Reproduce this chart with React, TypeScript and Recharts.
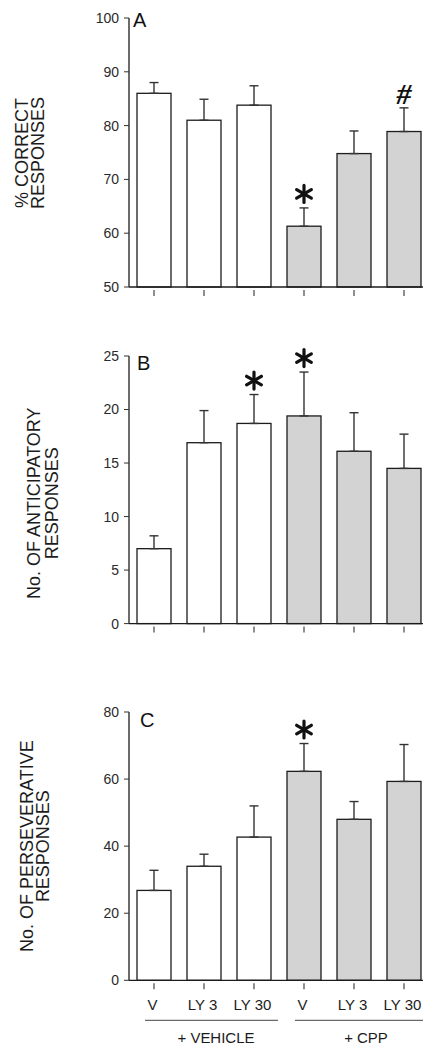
import React from 'react';
import { BarChart, Bar, XAxis, YAxis, ErrorBar, Label } from 'recharts';

// treatment groups along the x axis
const doses = ['V', 'LY 3', 'LY 30', 'V', 'LY 3', 'LY 30'];
const pretreatment = ['vehicle', 'vehicle', 'vehicle', 'cpp', 'cpp', 'cpp'];
const groupTitles: Record<string, string> = { vehicle: '+ VEHICLE', cpp: '+ CPP' };

// A: % correct responses (mean, SEM)
const correctMean = [86.0, 81.0, 83.8, 61.3, 74.8, 78.9];
const correctSem = [2.0, 3.9, 3.6, 3.4, 4.2, 4.4];
const correctMarks = ['', '', '', '*', '', '#'];
const correctTicks = [50, 60, 70, 80, 90, 100];

// B: anticipatory responses
const anticipatoryMean = [7.0, 16.9, 18.7, 19.4, 16.1, 14.5];
const anticipatorySem = [1.2, 3.0, 2.7, 4.1, 3.6, 3.2];
const anticipatoryMarks = ['', '', '*', '*', '', ''];
const anticipatoryTicks = [0, 5, 10, 15, 20, 25];

// C: perseverative responses
const perseverativeMean = [26.8, 34.0, 42.7, 62.3, 48.0, 59.3];
const perseverativeSem = [6.0, 3.6, 9.3, 8.3, 5.3, 11.0];
const perseverativeMarks = ['', '', '', '*', '', ''];
const perseverativeTicks = [0, 20, 40, 60, 80];

const FONT = '"Liberation Sans", Arial, Helvetica, sans-serif';
const INK = '#1c1c1c';

function buildRows(mean: number[], sem: number[], marks: string[]) {
  return doses.map((dose, i) => ({
    slot: `${pretreatment[i]}-${dose}`,
    group: pretreatment[i],
    mean: mean[i],
    sem: sem[i],
    err: [0, sem[i]],
    mark: marks[i],
  }));
}

const panels = [
  {
    letter: 'A', title: ['% CORRECT', 'RESPONSES'],
    rows: buildRows(correctMean, correctSem, correctMarks),
    ticks: correctTicks, top: 0, plotH: 269, axisH: 30, labels: false,
    titleX: [14, 30], titleShift: 0.5, letterDx: 4, letterDy: 9,
  },
  {
    letter: 'B', title: ['No. OF ANTICIPATORY', 'RESPONSES'],
    rows: buildRows(anticipatoryMean, anticipatorySem, anticipatoryMarks),
    ticks: anticipatoryTicks, top: 337.7, plotH: 267.6, axisH: 30, labels: false,
    titleX: [26.5, 44.5], titleShift: 13.5, letterDx: 8, letterDy: 14,
  },
  {
    letter: 'C', title: ['No. OF PERSEVERATIVE', 'RESPONSES'],
    rows: buildRows(perseverativeMean, perseverativeSem, perseverativeMarks),
    ticks: perseverativeTicks, top: 693.7, plotH: 268.3, axisH: 70, labels: true,
    titleX: [18.7, 34.7], titleShift: 0, letterDx: 11, letterDy: 15,
  },
];

function Asterisk({ cx, cy }: { cx: number; cy: number }) {
  const r = 8.5;
  return (
    <g stroke="#111" strokeWidth={3.2} strokeLinecap="round">
      {[90, 30, 150].map((a) => {
        const t = (a * Math.PI) / 180;
        return (
          <line key={a} x1={cx - r * Math.cos(t)} y1={cy - r * Math.sin(t)}
            x2={cx + r * Math.cos(t)} y2={cy + r * Math.sin(t)} />
        );
      })}
    </g>
  );
}

function MarkedBar(props: any) {
  const { x, y, width, height, payload, base } = props;
  const fill = payload.group === 'cpp' ? '#d3d3d3' : '#ffffff';
  const pxPerUnit = height / (payload.mean - base);
  const errTop = y - payload.sem * pxPerUnit;
  const cx = x + width / 2;
  return (
    <g>
      <rect x={x} y={y} width={width} height={height} fill={fill} stroke={INK} strokeWidth={1.3} />
      {payload.mark === '*' && <Asterisk cx={cx} cy={errTop - 14} />}
      {payload.mark === '#' && (
        <text x={cx} y={errTop - 14} textAnchor="middle" dominantBaseline="central"
          fontFamily='"Liberation Serif", serif' fontWeight="bold" fontStyle="italic"
          fontSize={30} fill="#111">#</text>
      )}
    </g>
  );
}

function SlotTick(props: any) {
  const { x, y, showLabels } = props;
  const index = props.index ?? props.payload?.index ?? 0;
  const middle = index === 1 || index === 4;
  return (
    <g>
      <line x1={x} x2={x} y1={y + 3} y2={y + 9} stroke="#444" strokeWidth={1.2} />
      {showLabels && (
        <text x={x - 1.5} y={y + 24} textAnchor="middle" dominantBaseline="central"
          fontFamily={FONT} fontSize={15} fill={INK}>{doses[index]}</text>
      )}
      {showLabels && middle && (
        <g>
          <line x1={x - 59} x2={x + 74} y1={y + 40} y2={y + 40} stroke="#444" strokeWidth={1} />
          <text x={x + 12} y={y + 57.5} textAnchor="middle" dominantBaseline="central"
            fontFamily={FONT} fontSize={15} fill={INK}>{groupTitles[pretreatment[index]]}</text>
        </g>
      )}
    </g>
  );
}

function PanelTitle(props: any) {
  const { viewBox, panel } = props;
  const cy = viewBox.y + viewBox.height / 2 + panel.titleShift;
  const plotLeft = viewBox.x + viewBox.width;
  return (
    <g>
      {panel.title.map((line: string, i: number) => (
        <text key={i} x={panel.titleX[i]} y={cy} textAnchor="middle" dominantBaseline="central"
          transform={`rotate(-90, ${panel.titleX[i]}, ${cy})`}
          fontFamily={FONT} fontSize={18} fill={INK}>{line}</text>
      ))}
      <text x={plotLeft + panel.letterDx} y={viewBox.y + panel.letterDy}
        fontFamily={FONT} fontSize={20} fill="#111">{panel.letter}</text>
    </g>
  );
}

function Panel({ panel }: { panel: (typeof panels)[number] }) {
  const lo = panel.ticks[0];
  const hi = panel.ticks[panel.ticks.length - 1];
  return (
    <div style={{ position: 'absolute', left: 0, top: panel.top }}>
      <BarChart width={440} height={10 + panel.plotH + panel.axisH} data={panel.rows}
        margin={{ top: 10, right: 19, bottom: 0, left: 0 }} barSize={34}>
        <XAxis dataKey="slot" height={panel.axisH} interval={0}
          axisLine={{ stroke: INK, strokeWidth: 1.3 }} tickLine={false} tickSize={0} tickMargin={0}
          tick={(p: any) => <SlotTick {...p} showLabels={panel.labels} />} />
        <YAxis width={121} type="number" domain={[lo, hi]} ticks={panel.ticks}
          axisLine={{ stroke: INK, strokeWidth: 1.3 }} tickLine={{ stroke: '#333' }} tickSize={5} tickMargin={5}
          tick={{ fontSize: 14, fill: '#2a2a2a', fontFamily: FONT }}>
          <Label content={(lp: any) => <PanelTitle {...lp} panel={panel} />} />
        </YAxis>
        <Bar dataKey="mean" isAnimationActive={false}
          shape={(bp: any) => <MarkedBar {...bp} base={lo} />}>
          <ErrorBar dataKey="err" width={4.5} stroke="#333" strokeWidth={1.4} direction="y" />
        </Bar>
      </BarChart>
    </div>
  );
}

export default function App() {
  // fixed frame: the wide panels are cut at the right edge without making the page scroll
  return (
    <div style={{
      position: 'fixed', left: 0, top: 0, width: 423, height: 1047,
      overflow: 'hidden', background: '#fff',
    }}>
      <div style={{ position: 'absolute', left: 8, top: 8 }}>
        {panels.map((p) => (
          <Panel key={p.letter} panel={p} />
        ))}
      </div>
    </div>
  );
}
